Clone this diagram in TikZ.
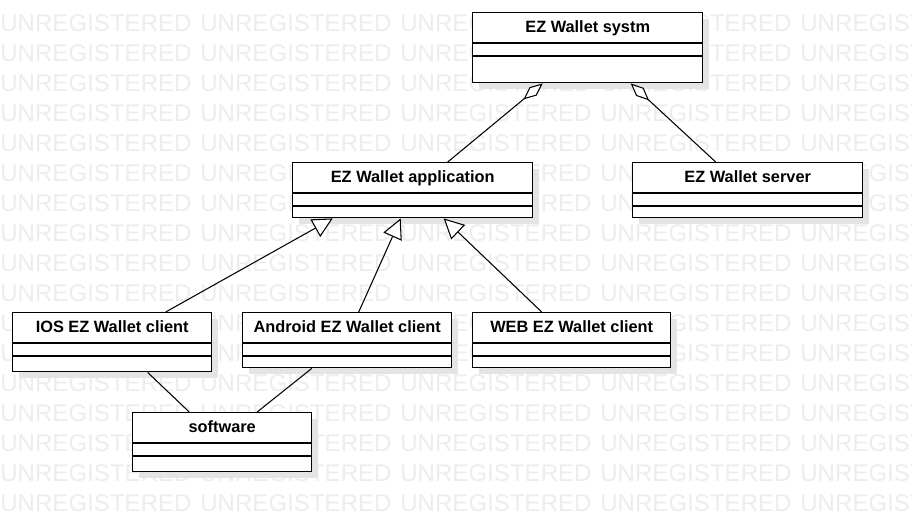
\documentclass[tikz,border=0pt]{standalone}
\usepackage{fontspec}
\setmainfont{Liberation Sans}
\usetikzlibrary{arrows.meta,calc}
\definecolor{wmgray}{RGB}{237,237,237}
\definecolor{shadowgray}{RGB}{228,228,228}
\tikzset{
    classnode/.style={
        rectangle,
        draw=black, % class frame
        fill=white,
        line width=0.8pt,
        inner sep=0
    },
    classtitle/.style={
        inner sep=0,
        anchor=base,
        font=\fontsize{9.3}{11}\selectfont\bfseries
    },
    classline/.style={line width=0.8pt},
    classshadow/.style={fill=shadowgray},
    watermark/.style={
        text=wmgray,
        inner sep=0,
        anchor=base west,
        font=\fontsize{13.7}{16}\selectfont
    },
    aggr/.style={
        line width=0.6pt,
        -{Diamond[fill=white,length=0.5cm,width=0.22cm]}
    },
    inherit/.style={
        line width=0.6pt,
        -{Triangle[fill=white,length=0.4cm,width=0.4cm]}
    },
    assoc/.style={line width=0.6pt}
}
% #1 name, #2 left, #3 top, #4 right, #5 bottom, #6 title
\newcommand{\ezclass}[6]{%
    \fill[classshadow] (#2+7,#3+7) rectangle (#4+7,#5+7);
    \node[classnode, anchor=north west,
          minimum width={(#4-#2)*0.02cm},
          minimum height={(#5-#3)*0.02cm}] (#1) at (#2,#3) {};
    \node[classtitle] (#1-title) at ($(#1.north)+(0,20.5)$) {#6};
    \draw[classline] (#2,#3+31) -- (#4,#3+31);
    \draw[classline] (#2,#3+44) -- (#4,#3+44);
}

\begin{document}
\begin{tikzpicture}[x=0.02cm,y=-0.02cm]
    \useasboundingbox[fill=white] (0,0) rectangle (912,521);
    % background text
    \begin{scope}
        \clip (0,0) rectangle (912,521);
        \foreach \row in {0,...,16}
            \foreach \col in {0,...,4}
                \node[watermark] (wm-\row-\col) at (\col*200,31+\row*30) {UNREGISTERED};
    \end{scope}

    % classes
    \ezclass{sys}{472}{12}{702}{82}{EZ Wallet systm}
    \ezclass{app}{292}{162}{532}{217}{EZ Wallet application}
    \ezclass{server}{632}{162}{862}{217}{EZ Wallet server}
    \ezclass{ios}{12}{312}{211}{371}{IOS EZ Wallet client}
    \ezclass{android}{242}{312}{451}{367}{Android EZ Wallet client}
    \ezclass{web}{472}{312}{670}{367}{WEB EZ Wallet client}
    \ezclass{soft}{132}{412}{311}{471}{software}

    % aggregation
    \draw[aggr] ([xshift=0.7cm]app.north) -- ([xshift=-0.9cm]sys.south);
    \draw[aggr] ([xshift=-0.64cm]server.north) -- ([xshift=0.86cm]sys.south);
    % generalization
    \draw[inherit] ([xshift=1.07cm]ios.north) -- ([xshift=-1.6cm]app.south);
    \draw[inherit] ([xshift=0.23cm]android.north) -- ([xshift=-0.24cm]app.south);
    \draw[inherit] ([xshift=-0.6cm]web.north) -- ([xshift=0.62cm]app.south);
    % association
    \draw[assoc] ([xshift=0.71cm]ios.south) -- ([xshift=-0.66cm]soft.north);
    \draw[assoc] ([xshift=-0.71cm]android.south) -- ([xshift=0.7cm]soft.north);
\end{tikzpicture}
\end{document}
